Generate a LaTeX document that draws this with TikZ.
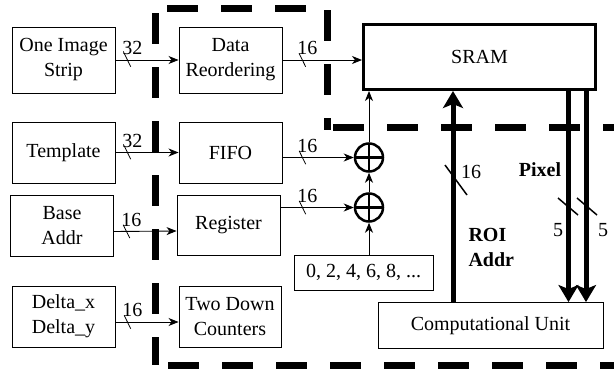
\documentclass[tikz,border=0pt]{standalone}
\usepackage{fontspec}
\setmainfont{Liberation Serif}
\usetikzlibrary{arrows.meta}

\tikzset{
  blk/.style={draw, line width=0.9pt, align=center, inner sep=2pt},
  wire/.style={line width=0.9pt, -{Stealth[length=10pt,width=8pt,inset=3pt]}},
  bigwire/.style={line width=5pt, -{Stealth[length=17pt,width=20pt,inset=4pt]}},
  adder/.style={circle, draw, line width=2.5pt, minimum size=28pt, inner sep=0pt,
    path picture={\draw[line width=2.5pt]
      (path picture bounding box.north) -- (path picture bounding box.south)
      (path picture bounding box.west) -- (path picture bounding box.east);}},
  divider/.style={line width=7pt, dash pattern=on 31pt off 23pt},
  buslabel/.style={anchor=south, inner sep=1pt, xshift=5pt, yshift=4pt},
  busslash/.pic={\draw[line width=0.8pt] (-3.3,-6.7) -- (3.3,6.7);},
  roislash/.pic={\draw[line width=1.5pt] (-11,-15) -- (11,15);},
  pixslash/.pic={\draw[line width=1.5pt] (-10,-8.5) -- (10,8.5);}
}

\begin{document}
\begin{tikzpicture}[x=1pt, y=-1pt, every node/.style={font=\fontsize{20}{25}\selectfont}]
\useasboundingbox (0,0) rectangle (614,370);

% dashed borders
\draw[divider] (155,13) -- (155,365);
\draw[divider] (168,365) -- (614,365);
\draw[divider] (167,8) -- (327,8) -- (327,130);
\draw[divider] (333,127) -- (614,127);

% inputs
\node[blk, minimum width=103, minimum height=66] (strip) at (63.5,60) {One Image\\Strip};
\node[blk, minimum width=103, minimum height=61] (tmpl) at (63.5,152.5) {Template};
\node[blk, minimum width=103, minimum height=61] (base) at (62,225.5) {Base\\Addr};
\node[blk, minimum width=103, minimum height=61] (delta) at (63.5,316.5) {Delta\_x\\Delta\_y};

% middle column
\node[blk, minimum width=103, minimum height=66] (dro) at (230.5,60) {Data\\Reordering};
\node[blk, minimum width=103, minimum height=61] (fifo) at (230.5,152.5) {FIFO};
\node[blk, minimum width=103, minimum height=60] (reg) at (228.5,225) {Register};
\node[blk, minimum width=102, minimum height=61] (cnt) at (230,316.5) {Two Down\\Counters};

% adders and offsets
\node[adder] (add1) at (369,157.5) {};
\node[adder] (add2) at (369,207.5) {};
\node[blk, minimum width=139, minimum height=35] (seq) at (363.5,272.5) {0, 2, 4, 6, 8, ...};

% memory and unit
\node[draw, line width=3pt, minimum width=232, minimum height=65] (sram) at (479.5,57) {SRAM};
\node[blk, minimum width=225, minimum height=46] (cu) at (490.5,325.5) {Computational Unit};

% thin connectors
\draw[wire] (strip) -- coordinate[pos=.19] (s1) (dro);
\draw[wire] (tmpl) -- coordinate[pos=.19] (s2) (fifo);
\draw[wire] ([yshift=-6pt]base.east) -- coordinate[pos=.2] (s3) ([yshift=-6pt]reg.west);
\draw[wire] ([yshift=-5.5pt]delta.east) -- coordinate[pos=.19] (s4) ([yshift=-5.5pt]cnt.west);
\draw[wire] (dro.east) -- coordinate[pos=.25] (s5) (dro.east -| sram.west);
\draw[wire] (fifo.east |- add1) -- coordinate[pos=.28] (s6) (add1.west);
\draw[wire] (reg.east |- add2) -- coordinate[pos=.3] (s7) (add2.west);
\draw[wire] (seq.north -| add2) -- (add2.south);
\draw[wire] (add2.north) -- (add1.south);
\draw[wire] (add1.north) -- (add1 |- sram.south);

\foreach \s in {s1,s2,s3,s4,s5,s6,s7}
  \pic at (\s) {busslash};

\node[buslabel] (w1) at (s1) {32};
\node[buslabel] (w2) at (s2) {32};
\node[buslabel] (w3) at (s3) {16};
\node[buslabel] (w4) at (s4) {16};
\node[buslabel] (w5) at (s5) {16};
\node[buslabel] (w6) at (s6) {16};
\node[buslabel] (w7) at (s7) {16};

% thick connectors
\coordinate (roix) at (453,0);
\coordinate (pxa) at (568.5,0);
\coordinate (pxb) at (586,0);
\draw[bigwire] (cu.north -| roix) -- (sram.south -| roix);
\draw[bigwire] (sram.south -| pxa) -- (cu.north -| pxa);
\draw[bigwire] (sram.south -| pxb) -- (cu.north -| pxb);

\pic at (456,180) {roislash};
\pic at (568,206.5) {pixslash};
\pic at (587,206.5) {pixslash};

\node (w8) at (471,172) {16};
\node[anchor=west, align=left, font=\fontsize{20}{25}\selectfont\bfseries] (roi) at (465,247) {ROI\\Addr};
\node[font=\fontsize{20}{25}\selectfont\bfseries] (pix) at (540,170) {Pixel};
\node (w9) at (558,230) {5};
\node (w10) at (603,230) {5};
\end{tikzpicture}
\end{document}
